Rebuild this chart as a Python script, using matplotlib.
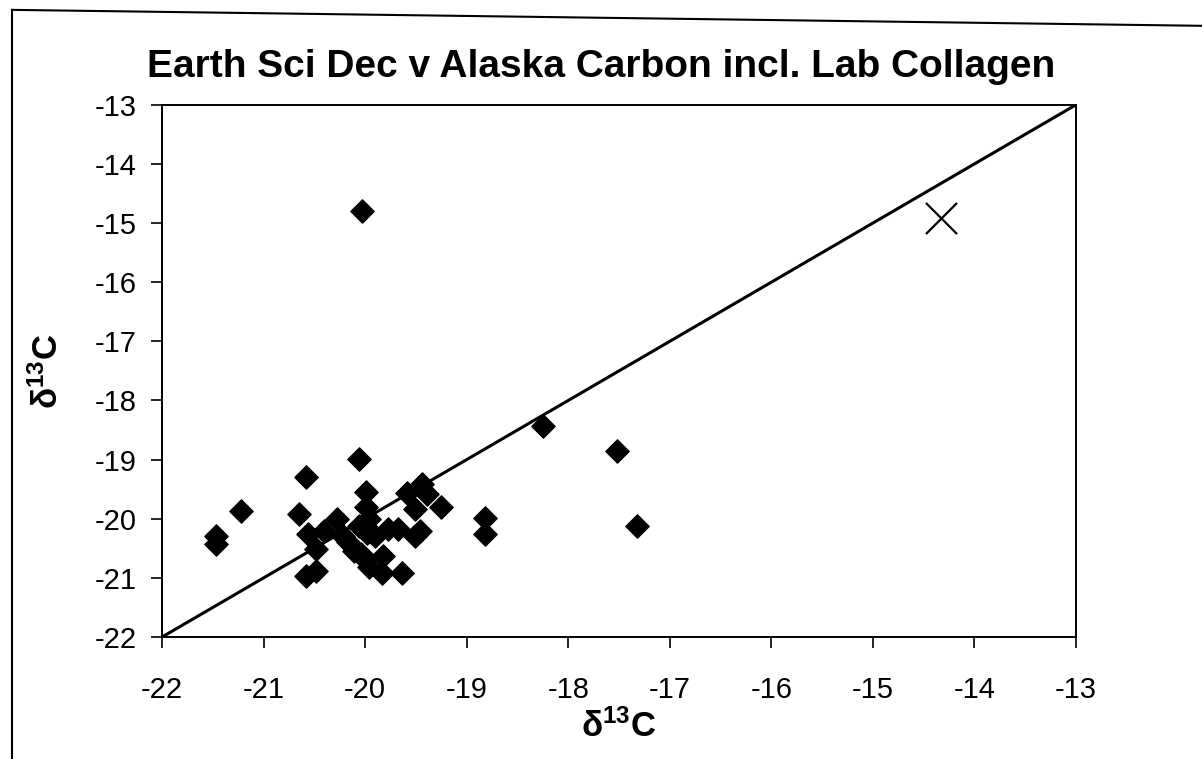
import matplotlib
matplotlib.use("Agg")
from matplotlib import pyplot as plt
from matplotlib.lines import Line2D

plt.rcParams['font.family'] = ['Liberation Sans', 'DejaVu Sans']
plt.rcParams['mathtext.fontset'] = 'custom'
plt.rcParams['mathtext.rm'] = 'Liberation Sans:bold'
plt.rcParams['mathtext.bf'] = 'Liberation Sans:bold'
plt.rcParams['axes.unicode_minus'] = False

# Earth Sci Dec (x) vs Alaska (y), delta 13C
earth_sci = [-21.47, -21.47, -21.22, -20.65, -20.58, -20.56, -20.41, -20.48,
             -20.58, -20.48, -20.28, -20.22, -20.17, -20.11, -20.06, -20.06,
             -20.01, -19.96, -20.04, -19.99, -19.99, -19.96, -19.98, -19.90,
             -19.77, -19.68, -19.82, -19.83, -19.64, -19.59, -19.44, -19.39,
             -19.51, -19.25, -19.46, -19.51, -18.82, -18.82, -18.25, -17.52,
             -17.32, -20.03]
alaska = [-20.29, -20.42, -19.87, -19.92, -19.29, -20.25, -20.21, -20.52,
          -20.97, -20.88, -20.00, -20.30, -20.40, -20.55, -20.12, -18.99,
          -20.66, -20.82, -20.60, -19.55, -19.80, -20.00, -20.24, -20.29,
          -20.18, -20.18, -20.63, -20.92, -20.91, -19.56, -19.42, -19.59,
          -19.84, -19.80, -20.21, -20.30, -19.98, -20.26, -18.44, -18.86,
          -20.13, -14.80]

# lab collagen
lab_x = [-14.33]
lab_y = [-14.92]

# 1:1 line
line_x = [-22, -13]
line_y = [-22, -13]

ticks = list(range(-22, -12))

fig = plt.figure(figsize=(12.02, 7.59), dpi=100)
ax = fig.add_axes([0.1348, 0.1607, 0.7604, 0.7013])

ax.plot(line_x, line_y, color='black', lw=2.2, zorder=2)
ax.scatter(earth_sci, alaska, marker='D', s=140, color='black', zorder=3)
ax.scatter(lab_x, lab_y, marker='x', s=500, color='black', linewidths=1.6, zorder=3)

ax.set_xlim(-22, -13)
ax.set_ylim(-22, -13)
ax.set_xticks(ticks)
ax.set_yticks(ticks)
ax.tick_params(direction='out', length=8, width=1.2, labelsize=21)
ax.tick_params(axis='x', pad=20)
ax.tick_params(axis='y', pad=10)
for s in ax.spines.values():
    s.set_linewidth(1.4)

ax.set_title('Earth Sci Dec v Alaska Carbon incl. Lab Collagen',
             fontsize=28, fontweight='bold', pad=20, x=0.48)
ax.set_xlabel(r'$\mathrm{\delta^{13}C}$', fontsize=25, labelpad=4)
ax.set_ylabel(r'$\mathrm{\delta^{13}C}$', fontsize=25, labelpad=22)

# outer chart border (left and top)
fig.add_artist(Line2D([0.010, 0.010], [0.0, 0.987], color='black', lw=1.5))
fig.add_artist(Line2D([0.010, 1.0], [0.987, 0.966], color='black', lw=1.5))

fig.savefig('out.png', dpi=100)
